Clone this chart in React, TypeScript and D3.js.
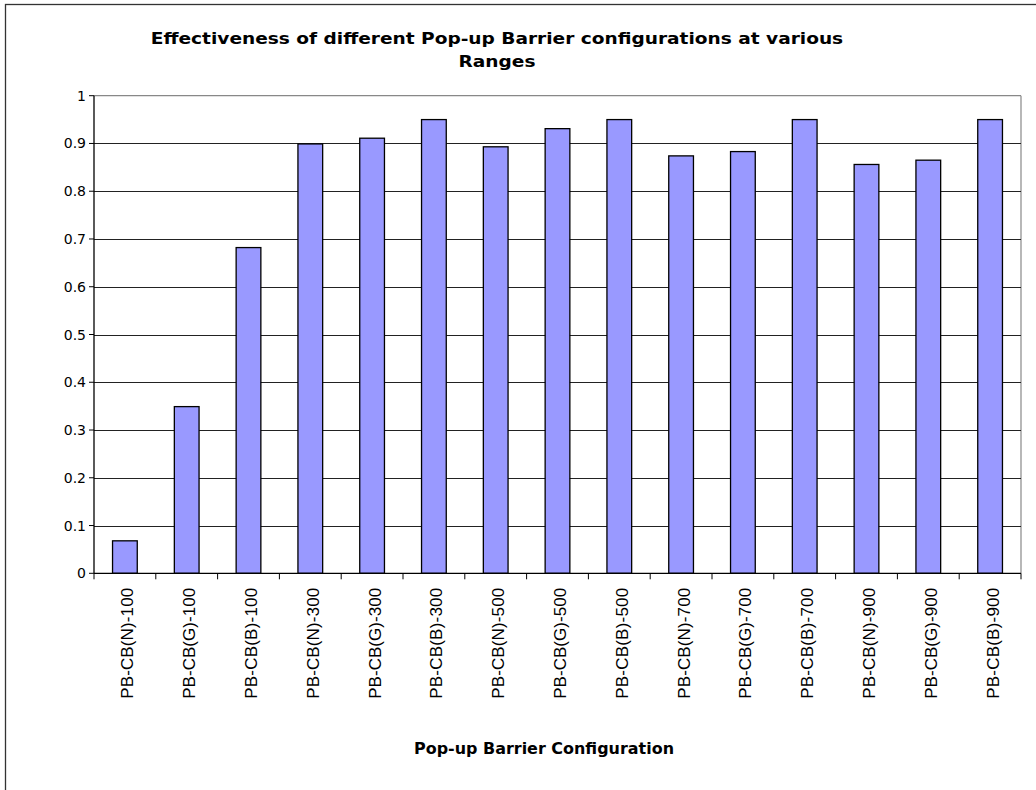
import React from "react";
import * as d3 from "d3";

const categories = [
  "PB-CB(N)-100", "PB-CB(G)-100", "PB-CB(B)-100",
  "PB-CB(N)-300", "PB-CB(G)-300", "PB-CB(B)-300",
  "PB-CB(N)-500", "PB-CB(G)-500", "PB-CB(B)-500",
  "PB-CB(N)-700", "PB-CB(G)-700", "PB-CB(B)-700",
  "PB-CB(N)-900", "PB-CB(G)-900", "PB-CB(B)-900",
];
const values = [0.068, 0.349, 0.682, 0.899, 0.911, 0.95, 0.893, 0.931, 0.95, 0.874, 0.883, 0.95, 0.856, 0.865, 0.95];
const yTicks = [0, 0.1, 0.2, 0.3, 0.4, 0.5, 0.6, 0.7, 0.8, 0.9, 1];
const titleLines = ["Effectiveness of different Pop-up Barrier configurations at various", "Ranges"];
const xTitle = "Pop-up Barrier Configuration";

export default function App() {
  const W = 1036, H = 790;
  const left = 94, right = 1021, top = 95.7, bottom = 573.3;
  const x = d3.scaleBand<string>().domain(categories).range([left, right]).paddingInner(0.6).paddingOuter(0.3);
  const y = d3.scaleLinear().domain([0, 1]).range([bottom, top]);
  const step = x.step();
  const boundaries = d3.range(categories.length + 1).map((i) => left + i * step);
  const verdana = "Verdana, 'DejaVu Sans', sans-serif";
  const arial = "'Liberation Sans', Arial, sans-serif";
  const sx = 1.16;
  return (
    <svg width={W} height={H} style={{ position: "absolute", left: 0, top: 0, display: "block" }}>
      <rect x={0} y={0} width={W} height={H} fill="#fff" />
      <rect x={5.5} y={4.5} width={W + 20} height={H + 20} fill="none" stroke="#333" strokeWidth={1.3} />
      <g transform={`translate(497,0) scale(${sx},1)`}>
        <text x={0} y={44} textAnchor="middle" fontFamily={verdana} fontWeight="bold" fontSize={16} fill="#000">{titleLines[0]}</text>
        <text x={0} y={67.5} textAnchor="middle" fontFamily={verdana} fontWeight="bold" fontSize={16} fill="#000">{titleLines[1]}</text>
      </g>
      {/* plot border top/right */}
      <line x1={left} x2={right} y1={top} y2={top} stroke="#888" strokeWidth={1.2} />
      <line x1={right} x2={right} y1={top} y2={bottom} stroke="#888" strokeWidth={1.2} />
      {yTicks.filter((t) => t > 0 && t < 1).map((t) => (
        <line key={t} x1={left} x2={right} y1={Math.round(y(t)) + 0.5} y2={Math.round(y(t)) + 0.5} stroke="#222" strokeWidth={1} />
      ))}
      {categories.map((c, i) => (
        <rect key={c} x={x(c)} y={y(values[i])} width={x.bandwidth()} height={bottom - y(values[i])} fill="#9999FF" stroke="#000" strokeWidth={1.3} />
      ))}
      {/* axes */}
      <line x1={left} x2={left} y1={top} y2={bottom} stroke="#000" strokeWidth={1.3} />
      <line x1={left} x2={right} y1={bottom} y2={bottom} stroke="#000" strokeWidth={1.3} />
      {yTicks.map((t) => (
        <g key={t}>
          <line x1={left - 5} x2={left} y1={y(t)} y2={y(t)} stroke="#000" strokeWidth={1} />
          <text x={left - 8} y={y(t) + 5} textAnchor="end" fontFamily={verdana} fontSize={14} fill="#000">{String(t)}</text>
        </g>
      ))}
      {boundaries.map((b, i) => (
        <line key={i} x1={b} x2={b} y1={bottom} y2={bottom + 6} stroke="#000" strokeWidth={1} />
      ))}
      {categories.map((c) => {
        const cx = (x(c) as number) + x.bandwidth() / 2;
        return (
          <text key={c} transform={`translate(${cx + 8.5},${bottom + 14.5}) rotate(-90)`} textAnchor="end" fontFamily={arial} fontSize={17} textLength={111} lengthAdjust="spacing" fill="#000">{c}</text>
        );
      })}
      <g transform={`translate(544,0) scale(1.03,1)`}>
        <text x={0} y={754} textAnchor="middle" fontFamily={verdana} fontWeight="bold" fontSize={15.5} fill="#000">{xTitle}</text>
      </g>
    </svg>
  );
}
